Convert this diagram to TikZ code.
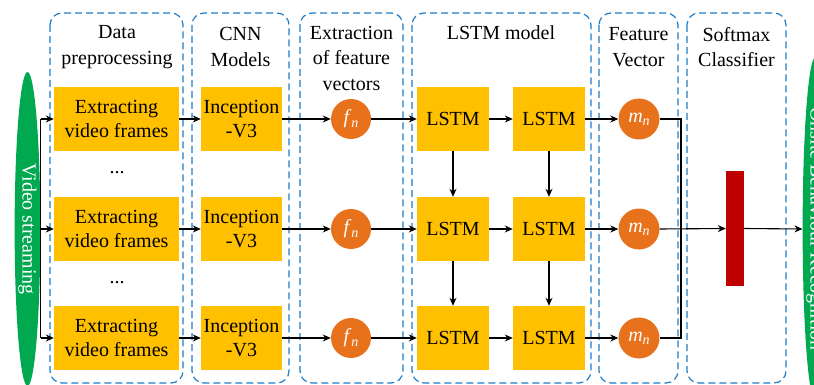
\documentclass[tikz,border=0pt]{standalone}
\usepackage{fontspec}
\setmainfont{Liberation Serif}
\usetikzlibrary{arrows.meta,shapes.geometric}
\definecolor{boxc}{HTML}{FFC000}
\definecolor{circc}{HTML}{E8711C}
\definecolor{greenc}{HTML}{00A84F}
\definecolor{redc}{HTML}{C00000}
\definecolor{bluec}{HTML}{1C7CC8}
\begin{document}
\begin{tikzpicture}[x=1pt,y=-1pt,
  font=\fontsize{20}{24}\selectfont,
  panel/.style={draw=bluec, line width=1.2pt, dash pattern=on 7pt off 4pt, rounded corners=12pt},
  obox/.style={fill=boxc, inner sep=0pt, align=center, minimum height=64pt},
  circ/.style={circle, fill=circc, inner sep=0pt, minimum size=40pt, text=white},
  ell/.style={ellipse, fill=greenc, inner sep=0pt, minimum width=314pt, minimum height=25pt, rotate=-90, text=white},
  head/.style={align=center, font=\fontsize{20}{25.5}\selectfont},
  arr/.style={line width=1.1pt, -{Stealth[length=8pt,width=7pt]}},
  ln/.style={line width=1.1pt}
]
\useasboundingbox (0,0) rectangle (814,385);
\clip (0,0) rectangle (814,385);

% panels
\draw[panel] (50,13) rectangle (183,383);
\draw[panel] (192,13) rectangle (289,383);
\draw[panel] (300,13) rectangle (403,383);
\draw[panel] (412,13) rectangle (591,383);
\draw[panel] (599,13) rectangle (678,383);
\draw[panel] (687,13) rectangle (786,383);

% headers
\node[head] (h1) at (117,47) {Data\\preprocessing};
\node[head] (h2) at (240.5,47) {CNN\\Models};
\node[head] (h3) at (351.5,58) {Extraction\\of feature\\vectors};
\node[head] (h4) at (501,33) {LSTM model};
\node[head] (h5) at (638.5,47) {Feature\\Vector};
\node[head] (h6) at (736.5,47) {Softmax\\Classifier};

% ellipses
\node[ell] (vs) at (27.5,229) {Video streaming};
\node[ell] (obr) at (815.5,229) {Onsite Behaviour Recognition};

% rows
\foreach \i/\y in {1/119,2/229,3/338}{
  \node[obox, minimum width=125pt] (ef\i) at (116.5,\y) {Extracting\\video frames};
  \node[obox, minimum width=81pt] (inc\i) at (241.5,\y) {Inception\\-V3};
  \node[circ] (f\i) at (351,\y) {\textit{f}\raisebox{-0.35ex}{\fontsize{14}{14}\selectfont\textit{n}}};
  \node[obox, minimum width=72pt] (la\i) at (453,\y) {LSTM};
  \node[obox, minimum width=72pt] (lb\i) at (549,\y) {LSTM};
  \node[circ, minimum size=41pt] (m\i) at (639,\y) {\textit{m}\raisebox{-0.35ex}{\fontsize{14}{14}\selectfont\textit{n}}};
  \draw[arr] (vs.north |- ef\i.west) -- (ef\i.west);
  \draw[arr] (ef\i) -- (inc\i);
  \draw[arr] (inc\i) -- (f\i);
  \draw[arr] (f\i) -- (la\i);
  \draw[arr] (la\i) -- (lb\i);
  \draw[arr] (lb\i) -- (m\i);
}
\node (d1) at (117,173) {...};
\node (d2) at (117,283) {...};

% left trunk
\draw[ln] (vs.north |- ef1.west) -- (vs.north |- ef3.west);

% vertical LSTM arrows
\draw[arr] (la1) -- (la2);
\draw[arr] (la2) -- (la3);
\draw[arr] (lb1) -- (lb2);
\draw[arr] (lb2) -- (lb3);

% classifier bar
\node[fill=redc, inner sep=0pt, minimum width=18pt, minimum height=115pt] (bar) at (735,228.5) {};
\coordinate (j) at (681,229);
\draw[ln] (m1.east) -- (m1.east -| j) -- (m3.east -| j) -- (m3.east);
\draw[arr] (m2.east) -- (bar.west);
\draw[arr] (bar.east) -- (obr.south);
\end{tikzpicture}
\end{document}
